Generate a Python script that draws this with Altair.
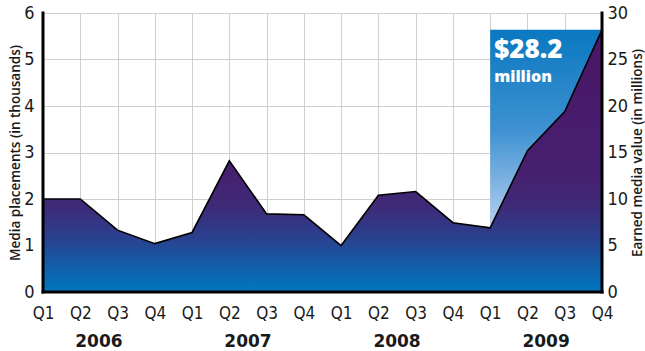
import altair as alt
import pandas as pd

# ---- data ----
years = ["2006", "2007", "2008", "2009"]
quarters = ["Q1", "Q2", "Q3", "Q4"]
# earned media value, in millions (left axis = thousands of placements, 1:5)
earned_value = [10.0, 10.0, 6.65, 5.2,
                6.4, 14.1, 8.4, 8.3,
                5.0, 10.4, 10.8, 7.45,
                6.9, 15.2, 19.4, 28.2]
highlight_total = 28.2
highlight_start = 12  # Q1 2009

idx = list(range(len(earned_value)))
df = pd.DataFrame({"idx": idx, "value": earned_value,
                   "quarter": [quarters[i % 4] for i in idx]})
df_hi = df[df["idx"] >= highlight_start].copy()
df_hi["top"] = highlight_total
df_years = pd.DataFrame({"year": years, "pos": [i * 4 + 1.5 for i in range(len(years))]})
df_note = pd.DataFrame({"idx": [highlight_start], "top": [highlight_total]})

W, H = 559, 279
cond = "'Liberation Sans Narrow', 'DejaVu Sans Condensed', Roboto, sans-serif"
sans = "'DejaVu Sans', sans-serif"
ink = "#1a1a1a"

x_scale = alt.Scale(domain=[0, 15], nice=False, padding=0)
y_scale = alt.Scale(domain=[0, 30], nice=False)

x_axis = alt.Axis(values=idx, labelExpr="'Q' + (datum.value % 4 + 1)",
                  grid=True, gridColor="#cfcfcf", gridWidth=1,
                  domain=False, ticks=False, tickSize=0,
                  labelOverlap=False, labelFlush=False, labelBound=False,
                  labelFont=cond, labelFontSize=17, labelColor=ink,
                  labelPadding=13, title=None, zindex=0)

hi_area = alt.Chart(df_hi).mark_area(
    color=alt.Gradient(gradient="linear",
                       stops=[alt.GradientStop(color="#0a78c0", offset=0),
                              alt.GradientStop(color="#3d91d1", offset=0.5),
                              alt.GradientStop(color="#b8d0f0", offset=1)],
                       x1=1, x2=1, y1=0, y2=1)
).encode(
    x=alt.X("idx:Q", scale=x_scale, axis=x_axis),
    y=alt.Y("top:Q", scale=y_scale, axis=None),
    y2="value:Q",
)

main_area = alt.Chart(df).mark_area(
    color=alt.Gradient(gradient="linear",
                       stops=[alt.GradientStop(color="#4b1567", offset=0),
                              alt.GradientStop(color="#46206f", offset=0.55),
                              alt.GradientStop(color="#3e2b79", offset=0.68),
                              alt.GradientStop(color="#284290", offset=0.8),
                              alt.GradientStop(color="#125fa8", offset=0.9),
                              alt.GradientStop(color="#0077c0", offset=1)],
                       x1=1, x2=1, y1=0, y2=1)
).encode(
    x=alt.X("idx:Q", scale=x_scale, axis=x_axis),
    y=alt.Y("value:Q", scale=y_scale,
            axis=alt.Axis(orient="left", values=[0, 5, 10, 15, 20, 25, 30],
                          labelExpr="datum.value / 5",
                          grid=True, gridColor="#cfcfcf", gridWidth=1,
                          domain=False, ticks=False, tickSize=0,
                          labelOverlap=False, labelFlush=False, labelBound=False,
                          labelFont=cond, labelFontSize=18, labelColor=ink,
                          labelPadding=9,
                          title="Media placements (in thousands)",
                          titleFont="'Open Sans', sans-serif", titleFontSize=13.5,
                          titleFontWeight=600,
                          titleColor=ink, titleX=-28, titleY=H / 2,
                          titleAngle=270, titleBaseline="middle", zindex=0)),
)

line = alt.Chart(df).mark_line(color="black", strokeWidth=1.6).encode(
    x=alt.X("idx:Q", scale=x_scale, axis=x_axis),
    y=alt.Y("value:Q", scale=y_scale,
            axis=alt.Axis(orient="right", values=[0, 5, 10, 15, 20, 25, 30],
                          grid=False, domain=False, ticks=False, tickSize=0,
                          labelOverlap=False, labelFlush=False, labelBound=False,
                          labelFont=cond, labelFontSize=18, labelColor=ink,
                          labelPadding=5,
                          title="Earned media value (in millions)",
                          titleFont="'Open Sans', sans-serif", titleFontSize=13.5,
                          titleFontWeight=600,
                          titleColor=ink, titleX=35, titleY=H / 2,
                          titleAngle=270, titleBaseline="middle")),
)

edges_v = alt.Chart(pd.DataFrame({"idx": [0, 15]})).mark_rule(
    color="black", strokeWidth=3, strokeCap="square"
).encode(x=alt.X("idx:Q", scale=x_scale, axis=x_axis))

edge_h = alt.Chart(pd.DataFrame({"base": [0]})).mark_rule(
    color="black", strokeWidth=3, strokeCap="square"
).encode(y=alt.Y("base:Q", scale=y_scale, axis=None))

year_text = alt.Chart(df_years).mark_text(
    font=sans, fontSize=17, fontWeight="bold", color=ink, baseline="middle"
).encode(x=alt.X("pos:Q", scale=x_scale, axis=x_axis), y=alt.value(H + 50),
         text="year:N")

note_big = alt.Chart(df_note).mark_text(
    font="'Open Sans', sans-serif", fontSize=26, fontWeight=800, color="white",
    align="left", baseline="alphabetic", dx=4, dy=28
).encode(x=alt.X("idx:Q", scale=x_scale, axis=x_axis),
         y=alt.Y("top:Q", scale=y_scale, axis=None),
         text=alt.value("$28.2"))

note_small = alt.Chart(df_note).mark_text(
    font="'Open Sans', sans-serif", fontSize=16, fontWeight=800, color="white",
    align="left", baseline="alphabetic", dx=4, dy=52
).encode(x=alt.X("idx:Q", scale=x_scale, axis=x_axis),
         y=alt.Y("top:Q", scale=y_scale, axis=None),
         text=alt.value("million"))

chart = alt.layer(
    hi_area, main_area, line, edges_v, edge_h, year_text, note_big, note_small
).resolve_scale(y="independent").properties(
    width=W, height=H,
    autosize=alt.AutoSizeParams(type="none"),
    padding={"left": 43, "top": 13, "right": 43, "bottom": 59},
).configure_view(stroke=None).configure(background="white")

chart.save("out.html", embed_options={"renderer": "svg", "actions": False})
